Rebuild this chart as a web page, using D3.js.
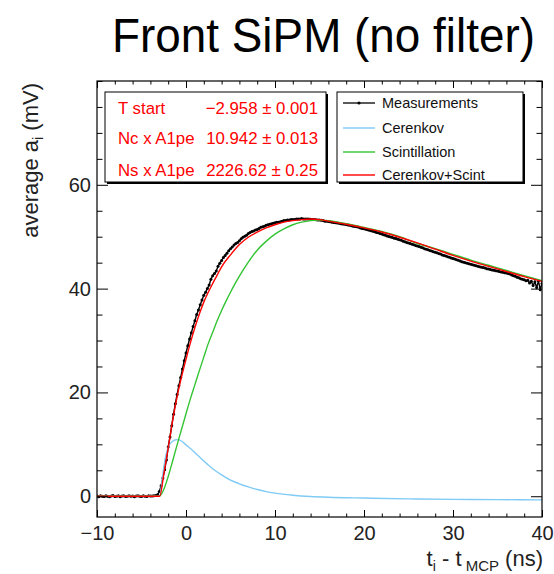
<!DOCTYPE html>
<html>
<head>
<meta charset="utf-8">
<script src="https://cdn.jsdelivr.net/npm/d3@7"></script>
<style>
  body { margin: 0; background: #fff; }
  svg { display: block; }
  text { font-family: "Liberation Sans", Arial, Helvetica, sans-serif; }
</style>
</head>
<body>
<svg id="chart" width="554" height="574"></svg>
<script>
// Averaged waveform: sampled every 0.2 ns starting at -10 ns
const measStart = -10;
const measStep = 0.2;
const measValues = [
  0.05, -0.10, 0.08, 0.00, -0.06, 0.10, 0.02, -0.08, 0.05, 0.12,
  -0.03, 0.00, 0.07, -0.10, 0.04, 0.09, -0.05, 0.02, 0.10, -0.02,
  0.06, -0.08, 0.03, 0.11, 0.00, -0.04, 0.07, 0.02, -0.06, 0.09,
  0.03, 0.05, 0.10, 0.15, 0.30, 0.9, 2.0, 3.5, 5.1, 7.0,
  9.5, 11.4, 13.6, 15.8, 17.8, 19.6, 21.3, 22.9, 24.5, 26.1,
  27.6, 29.0, 30.3, 31.5, 32.7, 33.8, 35.0, 35.9, 36.9, 37.8,
  38.7, 39.3, 40.0, 40.7, 41.8, 42.5, 42.9, 43.4, 44.3, 44.9,
  45.4, 46.0, 46.4, 46.8, 47.3, 47.7, 48.0, 48.4, 48.7, 48.9,
  49.2, 49.6, 49.9, 50.1, 50.3, 50.6, 50.8, 51.0, 51.1, 51.3,
  51.4, 51.6, 51.8, 51.9, 52.0, 52.2, 52.3, 52.4, 52.5, 52.6,
  52.7, 52.8, 52.8, 52.9, 53.0, 53.1, 53.1, 53.2, 53.2, 53.3,
  53.3, 53.3, 53.4, 53.4, 53.4, 53.5, 53.4, 53.4, 53.4, 53.4,
  53.35, 53.3, 53.3, 53.25, 53.2, 53.2, 53.15, 53.1, 53.0, 53.0,
  52.95, 52.9, 52.8, 52.75, 52.7, 52.65, 52.6, 52.5, 52.45, 52.4,
  52.35, 52.25, 52.2, 52.1, 52.0, 51.95, 51.9, 51.8, 51.7, 51.6,
  51.55, 51.45, 51.35, 51.25, 51.15, 51.05, 50.95, 50.8, 50.75, 50.6,
  50.5, 50.4, 50.3, 50.15, 50.05, 49.95, 49.85, 49.7, 49.65, 49.5,
  49.4, 49.3, 49.15, 49.05, 48.9, 48.8, 48.7, 48.55, 48.45, 48.3,
  48.2, 48.1, 47.95, 47.85, 47.7, 47.6, 47.5, 47.35, 47.25, 47.1,
  47.0, 46.9, 46.75, 46.65, 46.5, 46.4, 46.3, 46.15, 46.05, 45.9,
  45.8, 45.7, 45.55, 45.45, 45.3, 45.2, 45.1, 45.0, 44.9, 44.8,
  44.7, 44.6, 44.5, 44.4, 44.3, 44.2, 44.1, 44.05, 43.95, 43.85,
  43.8, 43.7, 43.6, 43.55, 43.45, 43.4, 43.3, 43.2, 43.15, 43.05,
  43.0, 42.9, 42.8, 42.6, 42.5, 42.4, 42.2, 42.1, 41.9, 41.8,
  41.7, 41.5, 41.6, 41.1, 41.4, 40.6, 41.3, 40.2, 41.5, 39.8,
  41.0
];

// Fitted components (time in ns, amplitude in mV)
const cerenkovT = [-10, -2.96, -2.8, -2.6, -2.4, -2.2, -2.0, -1.8, -1.5, -1.2, -1.0, -0.7, -0.4, 0, 0.5, 1, 1.5, 2, 2.5, 3, 4, 5, 6, 7, 8, 9, 10, 12, 14, 16, 20, 25, 30, 35, 40];
const cerenkovV = [0, 0, 1.5, 4.3, 6.6, 8.3, 9.4, 10.1, 10.6, 10.85, 10.9, 10.8, 10.5, 9.9, 9.2, 8.4, 7.6, 6.8, 6.0, 5.3, 4.1, 3.1, 2.4, 1.8, 1.3, 0.9, 0.6, 0.2, -0.05, -0.2, -0.35, -0.5, -0.6, -0.65, -0.7];

const scintT = [-10, -3.0, -2.5, -2.0, -1.5, -1.0, -0.5, 0, 0.5, 1, 1.5, 2, 2.5, 3, 3.5, 4, 4.5, 5, 5.5, 6, 7, 8, 9, 10, 11, 12, 13, 14, 15, 16, 18, 20, 22, 24, 26, 28, 30, 32, 34, 36, 38, 40];
const scintV = [0, 0, 1.3, 3.8, 6.8, 9.9, 12.9, 15.9, 18.8, 21.5, 24.2, 26.8, 29.4, 31.6, 33.8, 35.8, 37.6, 39.3, 40.9, 42.4, 45.1, 47.4, 49.1, 50.5, 51.5, 52.3, 52.8, 53.1, 53.2, 53.1, 52.5, 51.8, 51.0, 50.0, 48.7, 47.7, 46.6, 45.5, 44.5, 43.5, 42.5, 41.5];

const sumT = [-10, -2.96, -2.5, -2.0, -1.5, -1.0, -0.5, 0, 0.5, 1, 1.5, 2, 2.5, 3, 3.5, 4, 5, 6, 7, 8, 9, 10, 11, 12, 13, 14, 15, 16, 18, 20, 22, 24, 26, 28, 30, 32, 34, 36, 38, 40];
const sumV = [0, 0, 4.2, 9.3, 14.6, 19.2, 23.0, 26.4, 29.6, 32.5, 35.1, 37.4, 39.3, 41.0, 42.6, 44.2, 46.5, 48.5, 49.9, 50.9, 51.7, 52.3, 52.8, 53.1, 53.3, 53.4, 53.3, 53.0, 52.4, 51.7, 50.9, 49.9, 48.8, 47.6, 46.4, 45.3, 44.3, 43.3, 42.3, 41.4];

const xTicks = [-10, 0, 10, 20, 30, 40];
const yTicks = [0, 20, 40, 60];

const fitLabels = ["T start", "Nc x A1pe", "Ns x A1pe"];
const fitValues = ["\u22122.958 \u00b1 0.001", "10.942 \u00b1 0.013", "2226.62 \u00b1 0.25"];

const legendLabels = ["Measurements", "Cerenkov", "Scintillation", "Cerenkov+Scint"];
const seriesColors = ["#000000", "#7fcbf5", "#33c433", "#ff0000"];

const svg = d3.select("#chart");
const L = 97, R = 542, T = 81, B = 517;

const x = d3.scaleLinear().domain([-10, 40]).range([L, R]);
const y = d3.scaleLinear().domain([-4, 80]).range([B, T]);

// Title
svg.append("text")
  .attr("x", 112).attr("y", 52)
  .attr("font-size", 49)
  .attr("textLength", 423).attr("lengthAdjust", "spacingAndGlyphs")
  .attr("fill", "#000")
  .text("Front SiPM (no filter)");

// Clip for the data curves
svg.append("defs").append("clipPath").attr("id", "frameClip")
  .append("rect").attr("x", L).attr("y", T).attr("width", R - L).attr("height", B - T);

const plot = svg.append("g").attr("clip-path", "url(#frameClip)");

const meas = measValues.map((v, i) => ({ t: measStart + i * measStep, v }));
const line = d3.line().x(d => x(d.t)).y(d => y(d.v));
const smooth = d3.line().x(d => x(d.t)).y(d => y(d.v)).curve(d3.curveMonotoneX);

// Measurements: line with small markers
plot.append("path").datum(meas)
  .attr("d", line).attr("fill", "none")
  .attr("stroke", "#000").attr("stroke-width", 1.4);
plot.append("g").selectAll("circle").data(meas).join("circle")
  .attr("cx", d => x(d.t)).attr("cy", d => y(d.v)).attr("r", 1.5)
  .attr("fill", "#000");

// Fit curves
const fits = [
  { t: cerenkovT, v: cerenkovV, color: seriesColors[1] },
  { t: scintT, v: scintV, color: seriesColors[2] },
  { t: sumT, v: sumV, color: seriesColors[3] }
];
fits.forEach(f => {
  const pts = f.t.map((t, i) => ({ t, v: f.v[i] }));
  plot.append("path").datum(pts)
    .attr("d", smooth).attr("fill", "none")
    .attr("stroke", f.color).attr("stroke-width", 1.4);
});

// Axes with inward ticks on all four sides
const xMinor = d3.range(-10, 40.001, 2).filter(v => !xTicks.includes(v));
const yMinor = d3.range(0, 80.001, 5).filter(v => !yTicks.includes(v));

function styleAxis(g) {
  g.select(".domain").remove();
  g.selectAll("line").attr("stroke", "#000").attr("stroke-width", 1);
  g.selectAll("text").attr("font-size", 20).attr("fill", "#222")
    .attr("font-family", "'Liberation Sans', Arial, sans-serif");
}

svg.append("g").attr("transform", `translate(0,${B})`)
  .call(d3.axisBottom(x).tickValues(xTicks).tickSize(-7).tickPadding(9)
    .tickFormat(d => d < 0 ? "\u2212" + Math.abs(d) : d))
  .call(styleAxis);
svg.append("g").attr("transform", `translate(0,${B})`)
  .call(d3.axisBottom(x).tickValues(xMinor).tickSize(-3.5).tickFormat(""))
  .call(styleAxis);
svg.append("g").attr("transform", `translate(0,${T})`)
  .call(d3.axisTop(x).tickValues(xTicks).tickSize(-7).tickFormat(""))
  .call(styleAxis);
svg.append("g").attr("transform", `translate(0,${T})`)
  .call(d3.axisTop(x).tickValues(xMinor).tickSize(-3.5).tickFormat(""))
  .call(styleAxis);

svg.append("g").attr("transform", `translate(${L},0)`)
  .call(d3.axisLeft(y).tickValues(yTicks).tickSize(-11).tickPadding(6))
  .call(styleAxis);
svg.append("g").attr("transform", `translate(${L},0)`)
  .call(d3.axisLeft(y).tickValues(yMinor).tickSize(-5.5).tickFormat(""))
  .call(styleAxis);
svg.append("g").attr("transform", `translate(${R},0)`)
  .call(d3.axisRight(y).tickValues(yTicks).tickSize(-11).tickFormat(""))
  .call(styleAxis);
svg.append("g").attr("transform", `translate(${R},0)`)
  .call(d3.axisRight(y).tickValues(yMinor).tickSize(-5.5).tickFormat(""))
  .call(styleAxis);

// Frame
svg.append("rect").attr("x", L).attr("y", T).attr("width", R - L).attr("height", B - T)
  .attr("fill", "none").attr("stroke", "#000").attr("stroke-width", 1.2);

// Axis titles
const xt = svg.append("text").attr("x", 543).attr("y", 566)
  .attr("text-anchor", "end").attr("font-size", 22).attr("fill", "#222");
xt.append("tspan").text("t");
xt.append("tspan").attr("font-size", 14).attr("dy", 5).text("i");
xt.append("tspan").attr("dy", -5).text(" - t");
xt.append("tspan").attr("font-size", 15).attr("dy", 5).text(" MCP");
xt.append("tspan").attr("dy", -5).text(" (ns)");

const yt = svg.append("text").attr("transform", "translate(38,83) rotate(-90)")
  .attr("text-anchor", "end").attr("font-size", 22).attr("fill", "#222");
yt.append("tspan").text("average a");
yt.append("tspan").attr("font-size", 14).attr("dy", 5).text("i");
yt.append("tspan").attr("dy", -5).text(" (mV)");

// Fit parameter box
function shadowBox(x0, y0, w, h) {
  svg.append("rect").attr("x", x0 + 2).attr("y", y0 + 2).attr("width", w).attr("height", h).attr("fill", "#000");
  svg.append("rect").attr("x", x0).attr("y", y0).attr("width", w).attr("height", h)
    .attr("fill", "#fff").attr("stroke", "#000").attr("stroke-width", 1);
}
shadowBox(105, 92, 221, 90);
const statRows = [114, 144, 176];
fitLabels.forEach((lab, i) => {
  svg.append("text").attr("x", 118).attr("y", statRows[i]).attr("font-size", 16.8)
    .attr("fill", "#ff0000").text(lab);
  svg.append("text").attr("x", 318).attr("y", statRows[i]).attr("font-size", 16.8)
    .attr("text-anchor", "end").attr("fill", "#ff0000").text(fitValues[i]);
});

// Legend
shadowBox(337, 92, 186, 90);
const legRows = [103, 128, 152, 175];
legendLabels.forEach((lab, i) => {
  svg.append("line").attr("x1", 343).attr("x2", 375).attr("y1", legRows[i]).attr("y2", legRows[i])
    .attr("stroke", seriesColors[i]).attr("stroke-width", i === 0 ? 1.3 : 1.4);
  if (i === 0) {
    svg.append("circle").attr("cx", 359).attr("cy", legRows[i]).attr("r", 1.6).attr("fill", "#000");
  }
  svg.append("text").attr("x", 382).attr("y", legRows[i] + 5).attr("font-size", 14.5)
    .attr("fill", "#111").text(lab);
});
</script>
</body>
</html>
